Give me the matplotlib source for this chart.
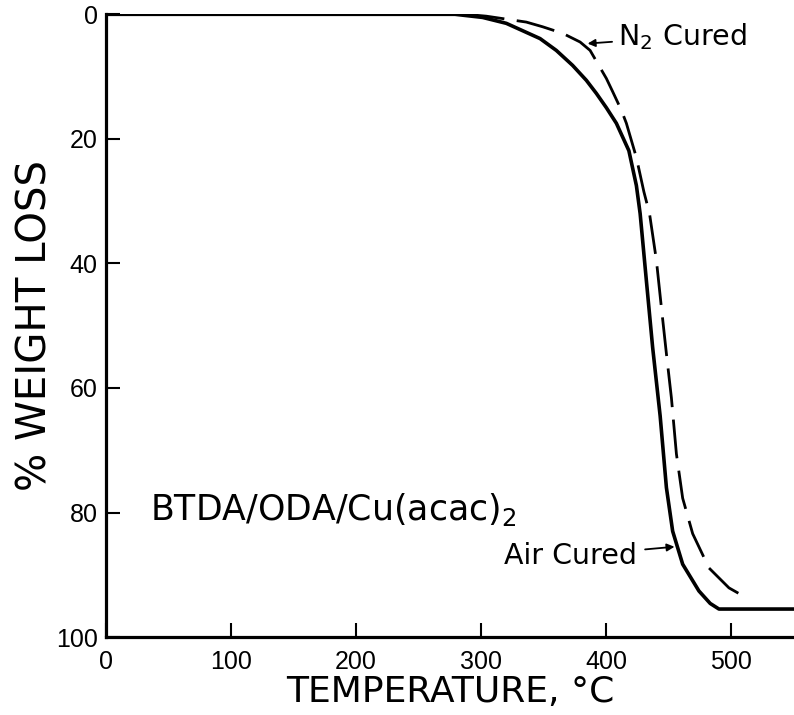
import matplotlib
matplotlib.use("Agg")
import matplotlib.pyplot as plt

# TGA curves (temperature in C, % weight loss)
air_temp = [0, 100, 200, 270, 279, 301, 320, 347, 360, 373, 384, 392, 400,
            408, 418, 424, 427, 432, 437, 443, 448, 453, 461, 474, 483, 490, 550]
air_loss = [0, 0, 0, 0, 0, 0.5, 1.45, 3.9, 5.8, 8.2, 10.6, 12.7, 15.0,
            17.5, 21.9, 27.5, 32.0, 42.8, 53.5, 64.5, 76.0, 83.0, 88.3, 92.6,
            94.6, 95.5, 95.5]

n2_temp = [0, 100, 200, 280, 290, 304, 336, 349, 365, 379, 387, 400,
           405, 412, 416, 424, 430, 434.5, 440, 444, 448, 452, 456, 461, 469,
           482, 498, 512]
n2_loss = [0, 0, 0, 0, 0.05, 0.3, 1.25, 2.0, 3.05, 4.45, 5.8, 10.3,
           12.4, 15.4, 17.5, 23.0, 28.5, 32.0, 39.5, 47.1, 54.5, 61.6, 70.6,
           77.7, 83.4, 88.9, 92.1, 93.7]

x_ticks = [0, 100, 200, 300, 400, 500]
y_ticks = [0, 20, 40, 60, 80, 100]

plt.rcParams["font.family"] = ["DejaVu Sans"]

fig = plt.figure(figsize=(7.94, 7.15), dpi=100)
ax = fig.add_axes([0.1335, 0.109, 0.8665, 0.871])

ax.plot(air_temp, air_loss, color="black", lw=2.6, solid_joinstyle="round")
ax.plot(n2_temp, n2_loss, color="black", lw=2.0, dashes=(14, 4.5))

ax.set_xlim(0, 550)
ax.set_ylim(100, 0)
ax.set_xticks(x_ticks)
ax.set_yticks(y_ticks)
ax.tick_params(direction="in", length=10, width=1.5, labelsize=18, pad=6)
ax.tick_params(axis="x", pad=9)
for lab in ax.get_xticklabels() + ax.get_yticklabels():
    lab.set_family("Liberation Sans")

for side in ("top", "right"):
    ax.spines[side].set_visible(False)
for side in ("left", "bottom"):
    ax.spines[side].set_linewidth(2.3)

ax.set_xlabel("TEMPERATURE, °C", fontsize=26, labelpad=1)
ax.set_ylabel("% WEIGHT LOSS", fontsize=29, labelpad=0)

ax.text(35, 79.5, "BTDA/ODA/Cu(acac)$_2$", fontsize=25, va="center")

ax.annotate("N$_2$ Cured", xy=(385, 4.7), xytext=(409, 3.6),
            fontsize=20.5, va="center",
            arrowprops=dict(arrowstyle="-|>", color="black", lw=1.3,
                            mutation_scale=11, shrinkA=2, shrinkB=0))
ax.annotate("Air Cured", xy=(454.5, 85.5), xytext=(318, 87.0),
            fontsize=20.5, va="center",
            arrowprops=dict(arrowstyle="-|>", color="black", lw=1.3,
                            mutation_scale=11, shrinkA=4, shrinkB=0))

fig.savefig("out.png", dpi=100)
